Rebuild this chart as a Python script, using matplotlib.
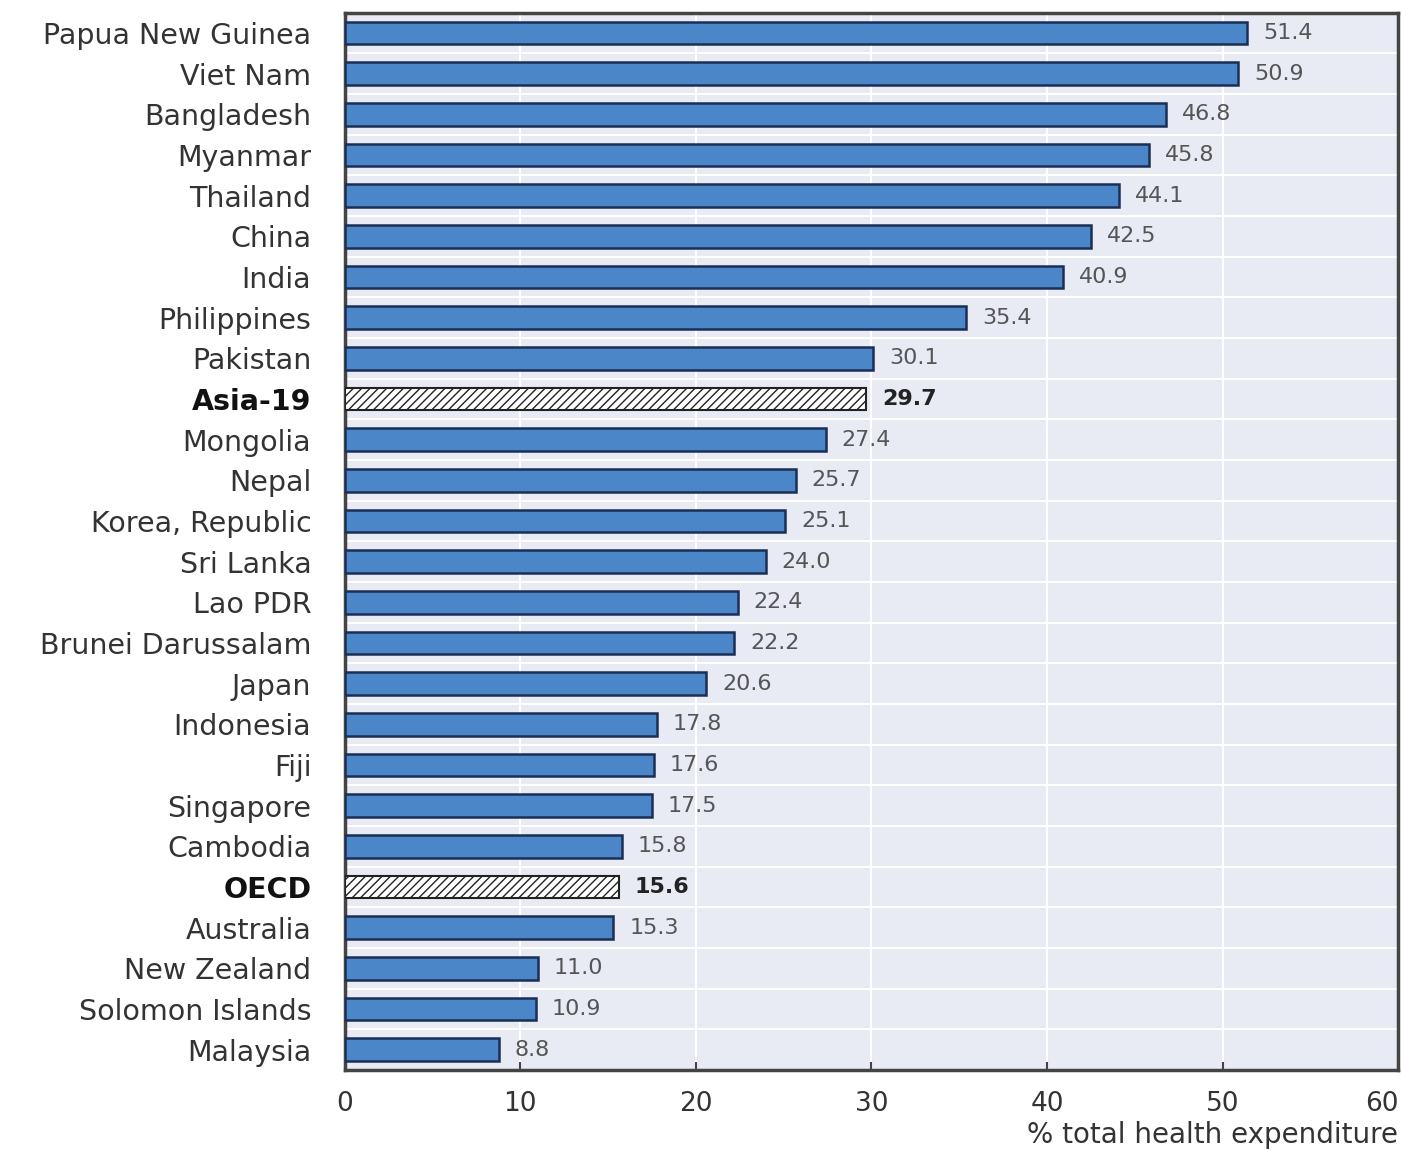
import matplotlib
matplotlib.use("Agg")
import matplotlib.pyplot as plt
import numpy as np

countries = ["Papua New Guinea", "Viet Nam", "Bangladesh", "Myanmar", "Thailand", "China",
             "India", "Philippines", "Pakistan", "Asia-19", "Mongolia", "Nepal",
             "Korea, Republic", "Sri Lanka", "Lao PDR", "Brunei Darussalam", "Japan",
             "Indonesia", "Fiji", "Singapore", "Cambodia", "OECD", "Australia",
             "New Zealand", "Solomon Islands", "Malaysia"]
values = [51.4, 50.9, 46.8, 45.8, 44.1, 42.5, 40.9, 35.4, 30.1, 29.7, 27.4, 25.7,
          25.1, 24.0, 22.4, 22.2, 20.6, 17.8, 17.6, 17.5, 15.8, 15.6, 15.3, 11.0, 10.9, 8.8]
highlight = ["Asia-19", "OECD"]
xticks = [0, 10, 20, 30, 40, 50, 60]
xlabel = "% total health expenditure"

fig = plt.figure(figsize=(14.01, 11.53), dpi=100)
ax = fig.add_axes([0.246, 0.072, 0.752, 0.917])
ax.set_facecolor("#e8eaf4")

n = len(countries)
y = np.arange(n)
for i, (c, v) in enumerate(zip(countries, values)):
    if c in highlight:
        ax.barh(i, v, height=0.55, color="white", edgecolor="#222222", hatch="////", linewidth=1.5, zorder=3)
        ax.text(v + 0.9, i, f"{v:.1f}", va="center", ha="left", fontsize=16, fontweight="bold", color="#222222")
    else:
        ax.barh(i, v, height=0.55, color="#4a86c8", edgecolor="#1b2f55", linewidth=1.8, zorder=3)
        ax.text(v + 0.9, i, f"{v:.1f}", va="center", ha="left", fontsize=16, color="#555555")

ax.set_ylim(n - 0.5, -0.5)
ax.set_xlim(0, 60)
ax.set_yticks(y)
ax.set_yticklabels(countries)
for lbl in ax.get_yticklabels():
    lbl.set_fontsize(20.5)
    lbl.set_color("#333333")
    if lbl.get_text() in highlight:
        lbl.set_fontweight("bold")
        lbl.set_color("#111111")
ax.tick_params(axis="y", length=0, pad=24)
ax.set_xticks(xticks)
ax.set_xticklabels([str(t) for t in xticks], fontsize=19, color="#333333")
xl = ax.get_xticklabels()
xl[-1].set_horizontalalignment("right")
ax.tick_params(axis="x", direction="in", length=6, width=1.5, color="#444444", pad=15)

# grid lines
for k in range(n - 1):
    ax.axhline(k + 0.5, color="white", linewidth=1.5, zorder=1)
for t in xticks[1:-1]:
    ax.axvline(t, color="white", linewidth=1.5, zorder=1)

for s in ax.spines.values():
    s.set_color("#444444")
    s.set_linewidth(2.5)

ax.set_xlabel(xlabel, fontsize=20, color="#333333", loc="right", labelpad=3)

fig.savefig("out.png", dpi=100, facecolor="white")
